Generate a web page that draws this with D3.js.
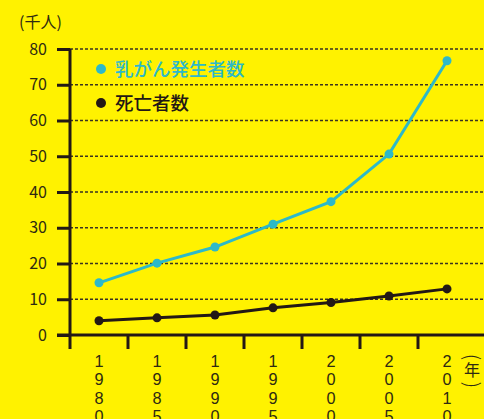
<!DOCTYPE html>
<html>
<head>
<meta charset="utf-8">
<style>
  html, body { margin: 0; padding: 0; background: #fff200; }
  svg { display: block; }
  text { font-family: "Noto Sans CJK JP", "Noto Sans", sans-serif; }
</style>
</head>
<body>
<svg width="484" height="419"></svg>
<script src="https://cdn.jsdelivr.net/npm/d3@7"></script>
<script>
var years = ["1980", "1985", "1990", "1995", "2000", "2005", "2010"];
var incidence = [14.6, 20.1, 24.6, 31.0, 37.3, 50.6, 76.7];
var deaths = [4.0, 4.8, 5.6, 7.6, 9.1, 10.9, 12.9];
var yTicks = [0, 10, 20, 30, 40, 50, 60, 70, 80];

var cyan = "#2db9c9", ink = "#231815", labelInk = "#2e2a12";
var svg = d3.select("svg");

var x = d3.scaleBand().domain(years).range([70, 476]);
var y = d3.scaleLinear().domain([0, 80]).range([335, 49]);

// grid lines
svg.append("g").selectAll("line")
    .data(yTicks.filter(function(d) { return d > 0; }))
    .enter().append("line")
    .attr("x1", 70).attr("x2", 484)
    .attr("y1", function(d) { return y(d); })
    .attr("y2", function(d) { return y(d); })
    .attr("stroke", "#3a3320")
    .attr("stroke-width", 1.5)
    .attr("stroke-dasharray", "3,2");

// y axis
var yAxis = svg.append("g").attr("transform", "translate(70,0)")
    .call(d3.axisLeft(y).tickValues(yTicks).tickSize(13).tickPadding(10));
yAxis.select(".domain").remove();
yAxis.selectAll(".tick line").attr("stroke", ink).attr("stroke-width", 3);
yAxis.selectAll(".tick text")
    .attr("fill", labelInk)
    .style("font-size", "16px")
    .style("font-family", "'Noto Sans CJK JP', sans-serif");

svg.append("line")
    .attr("x1", 70).attr("x2", 70).attr("y1", 49).attr("y2", 349)
    .attr("stroke", ink).attr("stroke-width", 3);

// x axis
svg.append("line")
    .attr("x1", 57).attr("x2", 484).attr("y1", 335).attr("y2", 335)
    .attr("stroke", ink).attr("stroke-width", 3);
svg.append("g").selectAll("line")
    .data(years.slice(1))
    .enter().append("line")
    .attr("x1", function(d) { return x(d); })
    .attr("x2", function(d) { return x(d); })
    .attr("y1", 335).attr("y2", 349)
    .attr("stroke", ink).attr("stroke-width", 3);

// stacked year labels, one digit per row
var digits = [];
years.forEach(function(yr) {
    yr.split("").forEach(function(c, i) { digits.push({ yr: yr, c: c, i: i }); });
});
svg.append("g").selectAll("text")
    .data(digits)
    .enter().append("text")
    .attr("text-anchor", "middle")
    .attr("fill", labelInk)
    .style("font-family", "'Liberation Sans', sans-serif")
    .style("font-size", "16.3px")
    .attr("x", function(d) { return x(d.yr) + x.bandwidth() / 2; })
    .attr("y", function(d) { return 367 + d.i * 18.4; })
    .text(function(d) { return d.c; });

// (年) written vertically
var unit = svg.append("g").attr("fill", labelInk).attr("text-anchor", "middle");
unit.append("text").attr("transform", "translate(472,357) rotate(90)")
    .attr("dy", "0.35em").style("font-size", "20px").style("font-weight", "300").text("(");
unit.append("text").attr("x", 472).attr("y", 376).style("font-size", "16px").text("年");
unit.append("text").attr("transform", "translate(472,385) rotate(90)")
    .attr("dy", "0.35em").style("font-size", "20px").style("font-weight", "300").text(")");

svg.append("text").attr("x", 19).attr("y", 28)
    .attr("fill", labelInk).style("font-size", "16px")
    .text("(千人)");

// lines
function drawSeries(vals, color) {
    var pts = vals.map(function(v, i) { return [x(years[i]) + x.bandwidth() / 2, y(v)]; });
    svg.append("path")
        .attr("d", d3.line()(pts))
        .attr("fill", "none")
        .attr("stroke", color)
        .attr("stroke-width", 3);
    svg.append("g").selectAll("circle")
        .data(pts)
        .enter().append("circle")
        .attr("cx", function(d) { return d[0]; })
        .attr("cy", function(d) { return d[1]; })
        .attr("r", 4.5)
        .attr("fill", color);
}
drawSeries(deaths, ink);
drawSeries(incidence, cyan);

// legend
var legend = [
    { label: "乳がん発生者数", color: cyan, y: 69 },
    { label: "死亡者数", color: ink, y: 103 }
];
var lg = svg.append("g").selectAll("g").data(legend).enter().append("g");
lg.append("circle").attr("cx", 101).attr("cy", function(d) { return d.y; })
    .attr("r", 5).attr("fill", function(d) { return d.color; });
lg.append("text").attr("x", 115).attr("y", function(d) { return d.y; })
    .attr("dy", "0.36em")
    .attr("fill", function(d) { return d.color; })
    .style("font-size", "18.5px").style("font-weight", "500")
    .text(function(d) { return d.label; });
</script>
</body>
</html>
